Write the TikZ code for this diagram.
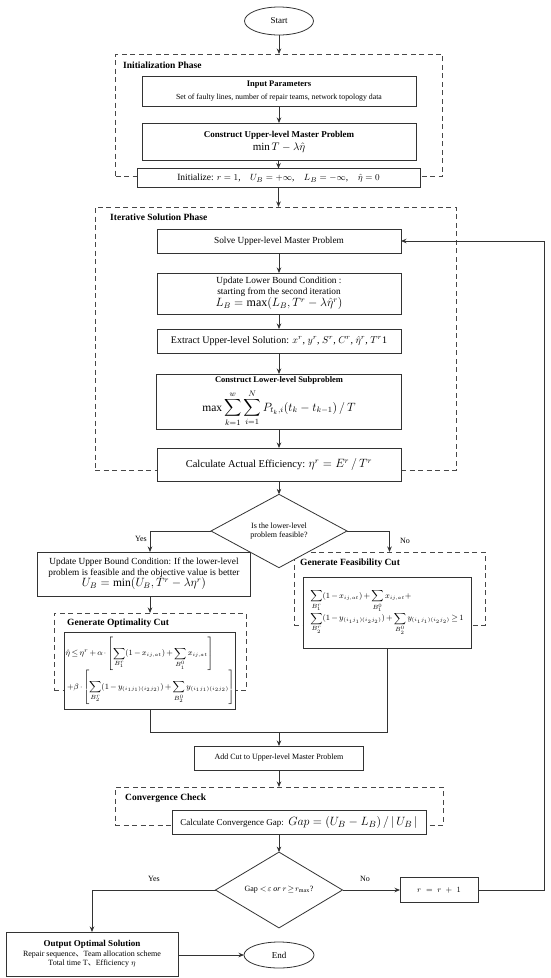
\documentclass[tikz,border=0pt]{standalone}
\usepackage{amsmath}
\usepackage{fontspec}
\setmainfont{Liberation Serif}
\newfontfamily\cjkfont{Noto Sans CJK SC}
\usetikzlibrary{arrows.meta,shapes.geometric,calc}
\newcommand{\xsub}{{\scriptscriptstyle ij,at}}
\newcommand{\ysub}{{\scriptscriptstyle (i_1j_1)(i_2j_2)}}
\newcommand{\tightmath}{\medmuskip=2.5mu plus 1mu minus 1mu\thickmuskip=3mu plus 1mu}
\begin{document}
\begin{tikzpicture}[x=1pt,y=-1pt,
  line/.style={draw=black!80, line width=0.8pt},
  arr/.style={line, -{Stealth[length=5.5pt,width=4.5pt]}},
  box/.style={line, fill=white, rectangle, inner sep=1pt, outer sep=0pt, align=center},
  phase/.style={draw=black!72, line width=0.9pt, dash pattern=on 5pt off 3.5pt, rectangle, inner sep=0pt, outer sep=0pt},
  plabel/.style={font=\bfseries\fontsize{9.5}{11}\selectfont, anchor=west, inner sep=0pt},
  term/.style={line, ellipse, fill=white, inner sep=0pt, outer sep=0pt},
  dia/.style={line, diamond, fill=white, inner sep=0pt, outer sep=0pt, align=center},
  lbl/.style={font=\fontsize{8}{9}\selectfont, inner sep=0pt},
]
\useasboundingbox[fill=white] (0,0) rectangle (550,978);

% ---------- phase (dashed) boxes ----------
\node[phase, minimum width=327pt, minimum height=122pt] (initph) at (279,115) {};
\node[plabel] (initlbl) at (123,65) {Initialization Phase};
\node[phase, minimum width=361pt, minimum height=263pt] (iterph) at (275.5,338.5) {};
\node[plabel] (iterlbl) at (110,217) {Iterative Solution Phase};
\node[phase, minimum width=192pt, minimum height=77pt] (optcut) at (150,651.5) {};
\node[plabel] (optlbl) at (67,623) {Generate Optimality Cut};
\node[phase, minimum width=191pt, minimum height=73pt] (feascut) at (389.5,588.5) {};
\node[plabel] (feaslbl) at (300,563) {Generate Feasibility Cut};
\node[phase, minimum width=328pt, minimum height=38pt] (convcheck) at (279,806) {};
\node[plabel] (convlbl) at (125,798) {Convergence Check};

% ---------- nodes ----------
\node[term, minimum width=69pt, minimum height=28pt, font=\fontsize{9}{10}\selectfont] (start) at (279,21) {Start};

\node[box, minimum width=274pt, minimum height=30pt] (inparam) at (279,91)
  {{\bfseries\fontsize{8.5}{10}\selectfont Input Parameters}\\[1pt]
   {\fontsize{7.8}{9}\selectfont Set of faulty lines, number of repair teams, network topology data}};

\node[box, minimum width=274pt, minimum height=37pt] (cupper) at (279,141.5)
  {{\bfseries\fontsize{9}{10}\selectfont Construct Upper-level Master Problem}\\[1pt]
   {\fontsize{11}{12}\selectfont $\min T-\lambda\hat{\eta}$}};

\node[box, minimum width=283pt, minimum height=19pt, font=\fontsize{9.5}{11}\selectfont] (initbox) at (278.5,178)
  {Initialize: $r=1$,\quad $U_B=+\infty$,\quad $L_B=-\infty$,\quad $\hat{\eta}=0$};

\node[box, minimum width=244pt, minimum height=24pt, font=\fontsize{9.3}{11}\selectfont] (solve) at (279,241)
  {Solve Upper-level Master Problem};

\node[box, minimum width=244pt, minimum height=41pt, font=\fontsize{9.3}{10.5}\selectfont] (updlb) at (279,293.5)
  {Update Lower Bound Condition :\\
   starting from the second iteration\\
   {\fontsize{12}{13}\selectfont $L_B=\max(L_B,T^r-\lambda\hat{\eta}^r)$}};

\node[box, minimum width=244pt, minimum height=24pt, font=\fontsize{10}{11}\selectfont] (extract) at (279,341)
  {Extract Upper-level Solution: $x^r$, $y^r$, $S^r$, $C^r$, $\hat{\eta}^r$, $T^r$1};

\node[box, minimum width=245pt, minimum height=55pt] (clower) at (279,401.5)
  {{\bfseries\fontsize{8.5}{9.5}\selectfont Construct Lower-level Subproblem}\\[4pt]
   {\fontsize{11.5}{12.5}\selectfont $\displaystyle \max\sum_{k=1}^{w}\sum_{i=1}^{N}P_{t_k,i}(t_k-t_{k-1})\,/\,T$}};

\node[box, minimum width=244pt, minimum height=33pt, font=\fontsize{10.5}{12}\selectfont] (calceff) at (279,464.5)
  {Calculate Actual Efficiency: {\fontsize{12}{13}\selectfont $\eta^r=E^r\,/\,T^r$}};

\node[dia, minimum width=136pt, minimum height=42pt, font=\fontsize{8}{9}\selectfont] (dia1) at (279,531)
  {Is the lower-level\\problem feasible?};

\node[box, minimum width=213pt, minimum height=44pt, font=\fontsize{9.3}{11}\selectfont] (updub) at (144,574)
  {Update Upper Bound Condition: If the lower-level\\
   problem is feasible and the objective value is better\\
   {\fontsize{11.5}{12}\selectfont $U_B=\min(U_B,T^r-\lambda\eta^r)$}};

\node[box, minimum width=166pt, minimum height=77pt, font=\fontsize{8}{9.5}\selectfont] (optin) at (150,670.5)
  {$\tightmath\begin{array}{@{}l@{}}
   \displaystyle \hat{\eta}\le\eta^r+\alpha\cdot\left[\sum_{B_1^r}(1-x_\xsub)+\sum_{B_1^0}x_\xsub\right]\\[10pt]
   \displaystyle \;+\beta\cdot\left[\sum_{B_2^r}(1-y_\ysub)+\sum_{B_2^0}y_\ysub\right]
   \end{array}$};

\node[box, minimum width=168pt, minimum height=71pt, font=\fontsize{8.2}{9.5}\selectfont] (feasin) at (387,612.5)
  {$\tightmath\begin{array}{@{}l@{}}
   \displaystyle \sum_{B_1^r}(1-x_\xsub)+\sum_{B_1^0}x_\xsub+\\[5pt]
   \displaystyle \sum_{B_2^r}(1-y_\ysub)+\sum_{B_2^0}y_\ysub\ge 1
   \end{array}$};

\coordinate (merge) at (279,732);

\node[box, minimum width=169pt, minimum height=24pt, font=\fontsize{8}{9}\selectfont] (addcut) at (279,758)
  {Add Cut to Upper-level Master Problem};

\node[box, minimum width=254pt, minimum height=24pt, font=\fontsize{9}{10}\selectfont] (gapbox) at (299,822)
  {Calculate Convergence Gap:\ \ {\fontsize{13}{14}\selectfont $Gap=\left(U_B-L_B\right)/\left|\,U_B\,\right|$}};

\node[dia, minimum width=127pt, minimum height=66pt, font=\fontsize{8}{9}\selectfont] (dia2) at (279,890)
  {Gap $<\!\varepsilon$ \textit{or} $r\!\ge\! r_{\max}$?};

\node[box, minimum width=78pt, minimum height=25pt, font=\fontsize{8.5}{10}\selectfont] (rbox) at (439,890)
  {$r\;=\;r\;+\;1$};

\node[box, minimum width=172pt, minimum height=44pt, font=\fontsize{8}{9.5}\selectfont] (output) at (92,954)
  {{\bfseries\fontsize{9}{10}\selectfont Output Optimal Solution}\\
   Repair sequence{\cjkfont 、}Team allocation scheme\\
   Total time T{\cjkfont 、}Efficiency $\eta$};

\node[term, minimum width=70pt, minimum height=26pt, font=\fontsize{9}{10}\selectfont] (end) at (279,955) {End};

% ---------- connectors ----------
\draw[arr] (start.south) -- (initph.north);
\draw[arr] (inparam.south) -- (cupper.north);
\draw[arr] (cupper.south) -- (initbox.south |- cupper.south) -- (initbox.north);
\draw[arr] (initbox.south) -- (initbox.south |- iterph.north);
\draw[arr] (solve.south) -- (updlb.north);
\draw[arr] (updlb.south) -- (extract.north);
\draw[arr] (extract.south) -- (clower.north);
\draw[arr] (clower.south) -- (calceff.north);
\draw[arr] (calceff.south) -- (dia1.north);
\draw[arr] (dia1.west) -| (optcut.north |- updub.north);
\node[lbl] (yes1) at (141,539) {Yes};
\draw[arr] (dia1.east) -| (feascut.north);
\node[lbl] (no1) at (405,541) {No};
\draw[arr] (optcut.north |- updub.south) -- (optcut.north);
\draw[line] (optin.south) |- (merge) -| (feasin.south);
\draw[arr] (merge) -- (addcut.north);
\draw[arr] (addcut.south) -- (convcheck.north);
\draw[arr] (dia2.north |- gapbox.south) -- (dia2.north);
\draw[arr] (dia2.east) -- (rbox.west);
\node[lbl] (no2) at (365,879) {No};
\draw[arr] (rbox.east) -- ++(66,0) |- (solve.east);
\draw[arr] (dia2.west) -| (output.north);
\node[lbl] (yes2) at (154,879) {Yes};
\draw[arr] (output.east |- end.west) -- (end.west);
\end{tikzpicture}
\end{document}
